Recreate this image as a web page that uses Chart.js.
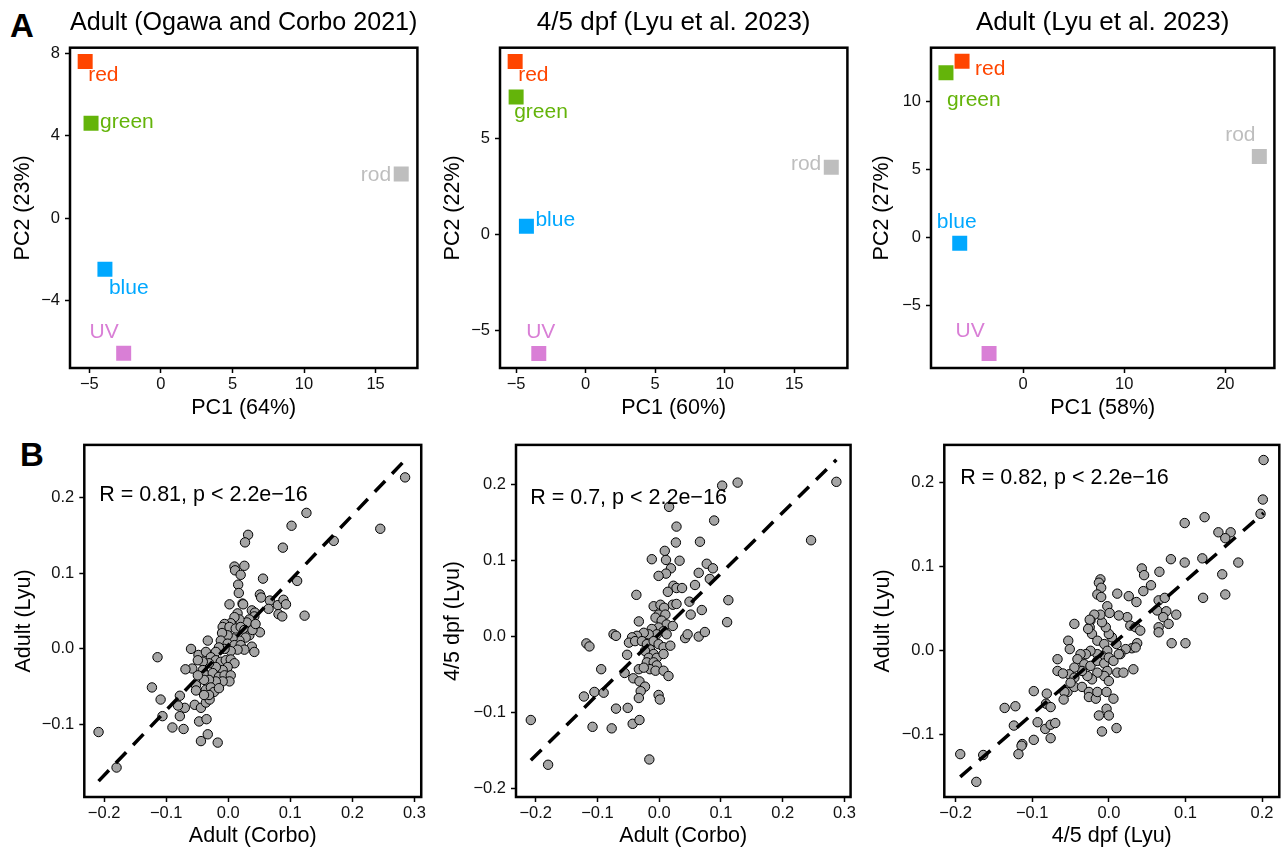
<!DOCTYPE html>
<html>
<head>
<meta charset="utf-8">
<script src="https://cdn.jsdelivr.net/npm/chart.js@4.4.1/dist/chart.umd.min.js"></script>
<style>
  body { margin: 0; background: #fff; width: 1285px; height: 852px; position: relative; overflow: hidden;
         font-family: "Liberation Sans", Arial, sans-serif; }
  canvas { position: absolute; }
  .tag { position: absolute; font-weight: bold; font-size: 33px; line-height: 1; }
</style>
</head>
<body>
<div class="tag" style="left:10px;top:9px">A</div>
<div class="tag" style="left:20px;top:438px">B</div>
<canvas id="a1" width="428" height="425" style="left:0;top:0"></canvas>
<canvas id="a2" width="428" height="425" style="left:430px;top:0"></canvas>
<canvas id="a3" width="425" height="425" style="left:860px;top:0"></canvas>
<canvas id="b1" width="428" height="422" style="left:0;top:430px"></canvas>
<canvas id="b2" width="428" height="422" style="left:430px;top:430px"></canvas>
<canvas id="b3" width="425" height="422" style="left:860px;top:430px"></canvas>
<script>
// PCA panels: one square per photoreceptor type
const cellTypes = ['red', 'green', 'blue', 'UV', 'rod'];
const cellColors = ['#FF4500', '#64B40A', '#00A8FF', '#D97FD6', '#BEBEBE'];

const a1PC1 = [-5.29, -4.88, -3.91, -2.60, 16.79];
const a1PC2 = [7.60, 4.61, -2.48, -6.55, 2.14];
const a2PC1 = [-5.07, -5.00, -4.26, -3.37, 17.67];
const a2PC2 = [9.00, 7.15, 0.42, -6.21, 3.49];
const a3PC1 = [-6.03, -7.62, -6.26, -3.36, 23.36];
const a3PC2 = [12.95, 12.09, -0.44, -8.55, 5.94];

const a1TickX = [-5, 0, 5, 10, 15], a1TickY = [-4, 0, 4, 8];
const a2TickX = [-5, 0, 5, 10, 15], a2TickY = [-5, 0, 5];
const a3TickX = [0, 10, 20], a3TickY = [-5, 0, 5, 10];

// gene-wise scatter, [x, y]
const b1Pairs = [
  [0.285,0.227],[0.245,0.159],[0.170,0.143],[0.126,0.180],[0.102,0.163],[0.088,0.134],[0.123,0.044],[0.111,0.090],
  [0.032,0.151],[0.027,0.141],[0.010,0.109],[0.011,0.104],[0.026,0.110],[0.020,0.098],[0.016,0.085],[0.017,0.074],
  [0.056,0.093],[0.051,0.072],[0.053,0.068],[0.067,0.064],[0.080,0.058],[0.089,0.065],[0.093,0.059],[0.065,0.053],
  [0.081,0.046],[0.087,0.043],[0.002,0.059],[0.023,0.060],[0.038,0.051],[0.043,0.048],[0.051,0.022],[0.038,0.003],
  [0.042,-0.004],[-0.209,-0.110],[-0.180,-0.157],[-0.114,-0.011],[-0.123,-0.051],[-0.109,-0.067],[-0.106,-0.089],
  [-0.090,-0.104],[-0.072,-0.106],[-0.078,-0.089],[-0.070,-0.078],[-0.081,-0.075],[-0.078,-0.062],[-0.054,-0.074],
  [-0.044,-0.078],[-0.047,-0.096],[-0.035,-0.093],[-0.033,-0.113],[-0.044,-0.122],[-0.017,-0.124],[-0.036,-0.071],
  [-0.030,-0.067],[0.024,0.059],[0.015,0.047],[0.042,0.043],[0.034,0.039],[0.030,0.035],[0.018,0.039],[0.010,0.042],
  [0.004,0.034],[-0.006,0.033],[-0.009,0.029],[0.002,0.029],[0.012,0.027],[0.020,0.029],[0.026,0.025],[0.034,0.018],
  [0.039,0.025],[0.044,0.033],[0.028,0.015],[0.018,0.011],[0.007,0.014],[-0.001,0.018],[-0.010,0.021],[-0.012,0.011],
  [-0.001,0.007],[0.010,0.005],[0.020,0.005],[0.026,-0.001],[0.015,-0.001],[0.004,-0.003],[-0.006,0.000],[-0.015,0.002],
  [-0.020,-0.004],[-0.033,0.011],[-0.060,0.000],[-0.048,-0.008],[-0.036,-0.004],[-0.028,-0.011],[-0.020,-0.015],
  [-0.012,-0.017],[-0.004,-0.015],[0.004,-0.014],[0.010,-0.019],[-0.001,-0.024],[-0.009,-0.028],[-0.020,-0.024],
  [-0.031,-0.019],[-0.041,-0.017],[-0.049,-0.015],[-0.058,-0.026],[-0.069,-0.027],[-0.041,-0.028],[-0.036,-0.035],
  [-0.025,-0.032],[-0.015,-0.037],[-0.006,-0.035],[0.004,-0.035],[0.002,-0.043],[-0.009,-0.043],[-0.020,-0.043],
  [-0.031,-0.041],[-0.039,-0.041],[-0.049,-0.035],[-0.052,-0.048],[-0.052,-0.055],[-0.036,-0.054],[-0.028,-0.051],
  [-0.023,-0.057],[-0.031,-0.061],[-0.039,-0.061],[-0.015,-0.052]
];
const b2Pairs = [
  [0.287,0.204],[0.246,0.127],[0.127,0.203],[0.102,0.199],[0.016,0.171],[0.089,0.153],[0.028,0.145],[0.027,0.124],
  [0.066,0.125],[0.009,0.113],[-0.012,0.102],[0.011,0.101],[0.033,0.100],[0.019,0.090],[0.011,0.083],[-0.001,0.080],
  [0.077,0.096],[0.087,0.090],[0.064,0.084],[0.082,0.076],[0.058,0.068],[0.023,0.067],[0.028,0.064],[0.037,0.064],
  [-0.037,0.055],[0.014,0.059],[0.112,0.048],[0.049,0.046],[0.069,0.035],[0.051,0.029],[0.110,0.019],[-0.033,0.020],
  [0.022,0.042],[0.028,0.043],[-0.009,0.040],[0.002,0.042],[0.008,0.038],[-0.001,0.029],[0.010,0.029],[-0.006,0.025],
  [0.004,0.021],[0.012,0.016],[0.022,0.014],[-0.001,0.012],[-0.012,0.010],[0.007,0.007],[0.012,0.003],[-0.004,0.003],
  [-0.017,0.003],[-0.025,0.005],[-0.036,0.001],[-0.044,-0.001],[-0.049,-0.008],[-0.039,-0.006],[-0.028,-0.006],
  [-0.020,-0.010],[-0.009,-0.006],[-0.001,-0.010],[0.007,-0.014],[0.018,-0.012],[-0.015,-0.017],[-0.023,-0.019],
  [-0.009,-0.023],[-0.017,-0.028],[-0.004,-0.028],[0.007,-0.023],[-0.020,-0.034],[-0.009,-0.034],[-0.004,-0.038],
  [-0.015,-0.043],[-0.006,-0.045],[-0.033,-0.043],[-0.025,-0.041],[0.007,-0.045],[0.015,-0.052],[-0.074,0.003],
  [-0.070,0.001],[-0.118,-0.009],[-0.113,-0.013],[0.042,-0.002],[0.046,0.003],[0.064,0.000],[0.074,0.006],
  [-0.052,-0.024],[-0.094,-0.043],[-0.056,-0.048],[-0.042,-0.055],[-0.032,-0.059],[-0.023,-0.066],[-0.030,-0.072],
  [-0.033,-0.081],[-0.001,-0.077],[0.001,-0.083],[-0.105,-0.073],[-0.090,-0.074],[-0.122,-0.079],[-0.070,-0.095],
  [-0.051,-0.094],[-0.043,-0.115],[-0.032,-0.110],[-0.108,-0.119],[-0.077,-0.121],[-0.208,-0.110],[-0.180,-0.169],
  [-0.016,-0.162]
];
const b3Pairs = [
  [0.202,0.227],[0.201,0.180],[0.198,0.163],[0.125,0.159],[0.099,0.152],[0.143,0.141],[0.159,0.141],[0.152,0.134],
  [0.169,0.105],[0.148,0.091],[0.152,0.067],[0.123,0.063],[0.122,0.110],[0.099,0.105],[0.081,0.109],[0.066,0.094],
  [0.043,0.098],[0.046,0.090],[0.055,0.078],[0.045,0.071],[0.036,0.058],[0.026,0.065],[0.011,0.068],[0.065,0.060],
  [0.073,0.063],[0.063,0.048],[0.075,0.047],[0.088,0.043],[0.071,0.040],[0.078,0.032],[0.065,0.028],[0.065,0.022],
  [0.082,0.009],[0.100,0.009],[0.024,0.040],[0.013,0.042],[0.028,0.030],[0.035,0.028],[0.041,0.024],[0.037,0.009],
  [0.030,0.003],[0.022,0.002],[0.015,-0.004],[0.010,0.008],[0.004,0.016],[0.000,0.020],[-0.004,0.028],[-0.009,0.034],
  [-0.011,0.043],[-0.019,0.043],[-0.024,0.036],[-0.025,0.028],[-0.022,0.020],[-0.015,0.012],[-0.006,0.008],
  [-0.002,0.000],[-0.009,-0.006],[-0.015,-0.004],[-0.024,0.000],[-0.030,-0.004],[-0.037,-0.004],[-0.041,-0.010],
  [-0.032,-0.016],[-0.024,-0.018],[-0.015,-0.012],[-0.006,-0.015],[0.000,-0.008],[0.006,-0.012],[0.013,-0.004],
  [-0.002,-0.024],[-0.006,-0.030],[0.000,-0.036],[0.011,-0.026],[0.019,-0.026],[-0.015,-0.026],[-0.022,-0.034],
  [-0.028,-0.030],[-0.035,-0.024],[-0.045,-0.020],[-0.052,-0.028],[-0.045,-0.032],[-0.054,-0.049],[-0.045,-0.043],
  [-0.035,-0.043],[-0.026,-0.049],[-0.026,-0.055],[-0.017,-0.057],[-0.015,-0.049],[-0.003,-0.049],[0.006,-0.057],
  [-0.003,-0.069],[0.000,-0.077],[-0.013,-0.077],[-0.009,-0.096],[0.010,-0.092],[0.032,-0.022],[0.035,0.004],
  [-0.011,0.085],[-0.013,0.081],[-0.010,0.075],[-0.015,0.067],[-0.010,0.064],[-0.002,0.053],[0.001,0.045],
  [-0.025,0.037],[-0.027,0.026],[-0.045,0.032],[-0.053,0.012],[-0.051,0.002],[-0.067,-0.010],[-0.067,-0.024],
  [-0.060,-0.027],[-0.050,-0.038],[-0.058,-0.049],[-0.059,-0.058],[-0.081,-0.051],[-0.082,-0.063],[-0.076,-0.067],
  [-0.098,-0.048],[-0.122,-0.066],[-0.136,-0.068],[-0.124,-0.089],[-0.093,-0.085],[-0.083,-0.093],[-0.076,-0.088],
  [-0.070,-0.086],[-0.076,-0.104],[-0.098,-0.106],[-0.113,-0.111],[-0.114,-0.113],[-0.118,-0.123],[-0.164,-0.124],
  [-0.194,-0.123],[-0.173,-0.156]
];
// fitted dashed lines, end points
const b1Fit = [[-0.209,-0.175],[0.285,0.250]];
const b2Fit = [[-0.208,-0.163],[0.287,0.233]];
const b3Fit = [[-0.194,-0.150],[0.202,0.164]];

const bTickX = [-0.2, -0.1, 0, 0.1, 0.2, 0.3];
const b3TickX = [-0.2, -0.1, 0, 0.1, 0.2];
const b1TickY = [-0.1, 0, 0.1, 0.2];
const b2TickY = [-0.2, -0.1, 0, 0.1, 0.2];
const b3TickY = [-0.1, 0, 0.1, 0.2];

Chart.defaults.font.family = '"Liberation Sans", Arial, sans-serif';
Chart.defaults.color = '#000';

const fmt = (dec) => (v) => (v < 0 ? '\u2212' : '') + Math.abs(v).toFixed(dec);

function axis(range, ticks, dec, title, size, titlePad, horizontal) {
    return {
        type: 'linear',
        min: range[0],
        max: range[1],
        afterBuildTicks: s => { s.ticks = ticks.map(v => ({ value: v })); },
        afterFit: s => { if (horizontal) s.height = size; else s.width = size; },
        ticks: { autoSkip: false, maxRotation: 0, padding: horizontal ? 2 : 5, font: { size: 16.5 }, color: '#111', callback: fmt(dec) },
        grid: { drawOnChartArea: false, drawTicks: true, tickLength: 5, tickWidth: 1.5, tickColor: '#000' },
        border: { display: false },
        title: {
            display: true, text: title, font: { size: 21.5 }, color: '#000',
            padding: horizontal ? { top: 0, bottom: titlePad } : { top: titlePad, bottom: 0 }
        }
    };
}

const frame = {
    id: 'frame',
    afterDatasetsDraw(chart) {
        const { ctx, chartArea: a } = chart;
        ctx.save();
        ctx.strokeStyle = '#000';
        ctx.lineWidth = 2.5;
        ctx.strokeRect(a.left, a.top, a.right - a.left, a.bottom - a.top);
        ctx.restore();
    }
};

const pointTags = {
    id: 'pointTags',
    afterDatasetsDraw(chart, args, opts) {
        if (!opts.offsets) return;
        const { ctx } = chart;
        const meta = chart.getDatasetMeta(0);
        ctx.save();
        ctx.font = '21px "Liberation Sans", Arial, sans-serif';
        ctx.textBaseline = 'middle';
        meta.data.forEach((pt, i) => {
            const [dx, dy, align] = opts.offsets[i];
            ctx.textAlign = align;
            ctx.fillStyle = cellColors[i];
            ctx.fillText(cellTypes[i], pt.x + dx, pt.y + dy);
        });
        ctx.restore();
    }
};

const corLabel = {
    id: 'corLabel',
    afterDatasetsDraw(chart, args, opts) {
        if (!opts.text) return;
        const { ctx, scales } = chart;
        ctx.save();
        ctx.font = '21.5px "Liberation Sans", Arial, sans-serif';
        ctx.fillStyle = '#000';
        ctx.textAlign = 'left';
        ctx.textBaseline = 'middle';
        ctx.fillText(opts.text, scales.x.getPixelForValue(opts.at[0]), scales.y.getPixelForValue(opts.at[1]));
        ctx.restore();
    }
};

const pcaPanels = [
    { id: 'a1', pc1: a1PC1, pc2: a1PC2, x: [-6.35, 17.92], y: [-7.27, 8.27], tx: a1TickX, ty: a1TickY,
      title: 'Adult (Ogawa and Corbo 2021)', xt: 'PC1 (64%)', yt: 'PC2 (23%)', yw: 70, yPad: 9.8, right: 6.3,
      tags: [[3, 14, 'left'], [9, -1, 'left'], [4, 19, 'left'], [-5, -21, 'right'], [-10, 1, 'right']] },
    { id: 'a2', pc1: a2PC1, pc2: a2PC2, x: [-6.16, 18.83], y: [-6.96, 9.72], tx: a2TickX, ty: a2TickY,
      title: '4/5 dpf (Lyu et al. 2023)', xt: 'PC1 (60%)', yt: 'PC2 (22%)', yw: 70, yPad: 9.8, right: 6.3,
      tags: [[3, 14, 'left'], [-2, 15, 'left'], [9, -6, 'left'], [2, -21, 'center'], [-10, -3, 'right']] },
    { id: 'a3', pc1: a3PC1, pc2: a3PC2, x: [-9.1, 24.85], y: [-9.62, 13.94], tx: a3TickX, ty: a3TickY,
      title: 'Adult (Lyu et al. 2023)', xt: 'PC1 (58%)', yt: 'PC2 (27%)', yw: 71, yPad: 9.4, right: 3.3,
      tags: [[13, 8, 'left'], [1, 27, 'left'], [-3, -21, 'center'], [-19, -22, 'center'], [-19, -21, 'center']] }
];

pcaPanels.forEach(p => {
    new Chart(document.getElementById(p.id), {
        type: 'scatter',
        data: {
            datasets: [{
                data: p.pc1.map((v, i) => ({ x: v, y: p.pc2[i] })),
                pointStyle: 'rect',
                pointRadius: 10.6,
                backgroundColor: cellColors,
                borderWidth: 0
            }]
        },
        options: {
            responsive: false,
            animation: false,
            events: [],
            layout: { padding: { left: 0, right: p.right, top: 0, bottom: 0 } },
            plugins: {
                legend: { display: false },
                tooltip: { enabled: false },
                title: { display: true, text: p.title, fullSize: false, color: '#000',
                         font: { size: 26, weight: 'normal' }, padding: { top: 7, bottom: 9.5 } },
                pointTags: { offsets: p.tags }
            },
            scales: {
                x: axis(p.x, p.tx, 0, p.xt, 57, 4, true),
                y: axis(p.y, p.ty, 0, p.yt, p.yw, p.yPad, false)
            }
        },
        plugins: [frame, pointTags]
    });
});

const corPanels = [
    { id: 'b1', pairs: b1Pairs, fit: b1Fit, x: [-0.232, 0.311], y: [-0.196, 0.270], tx: bTickX, ty: b1TickY,
      xt: 'Adult (Corbo)', yt: 'Adult (Lyu)', yw: 84.3, yPad: 11.1, right: 6.3,
      text: 'R = 0.81, p < 2.2e\u221216', at: [-0.208, 0.204] },
    { id: 'b2', pairs: b2Pairs, fit: b2Fit, x: [-0.232, 0.310], y: [-0.2115, 0.2527], tx: bTickX, ty: b2TickY,
      xt: 'Adult (Corbo)', yt: '4/5 dpf (Lyu)', yw: 86, yPad: 10.1, right: 7,
      text: 'R = 0.7, p < 2.2e\u221216', at: [-0.209, 0.182] },
    { id: 'b3', pairs: b3Pairs, fit: b3Fit, x: [-0.2148, 0.2225], y: [-0.174, 0.245], tx: b3TickX, ty: b3TickY,
      xt: '4/5 dpf (Lyu)', yt: 'Adult (Lyu)', yw: 84.3, yPad: 10.1, right: 3.3,
      text: 'R = 0.82, p < 2.2e\u221216', at: [-0.194, 0.206] }
];

corPanels.forEach(p => {
    new Chart(document.getElementById(p.id), {
        type: 'scatter',
        data: {
            datasets: [
                {
                    data: p.fit.map(([x, y]) => ({ x, y })),
                    showLine: true,
                    borderColor: '#000',
                    borderWidth: 3.5,
                    borderDash: [15, 10],
                    pointRadius: 0,
                    order: 0
                },
                {
                    data: p.pairs.map(([x, y]) => ({ x, y })),
                    pointRadius: 4.7,
                    backgroundColor: '#A5A5A5',
                    borderColor: '#000',
                    borderWidth: 1,
                    order: 1
                }
            ]
        },
        options: {
            responsive: false,
            animation: false,
            events: [],
            layout: { padding: { left: 0, right: p.right, top: 13, bottom: 0 } },
            plugins: {
                legend: { display: false },
                tooltip: { enabled: false },
                corLabel: { text: p.text, at: p.at }
            },
            scales: {
                x: axis(p.x, p.tx, 1, p.xt, 55, 3.1, true),
                y: axis(p.y, p.ty, 1, p.yt, p.yw, p.yPad, false)
            }
        },
        plugins: [frame, corLabel]
    });
});
</script>
</body>
</html>
